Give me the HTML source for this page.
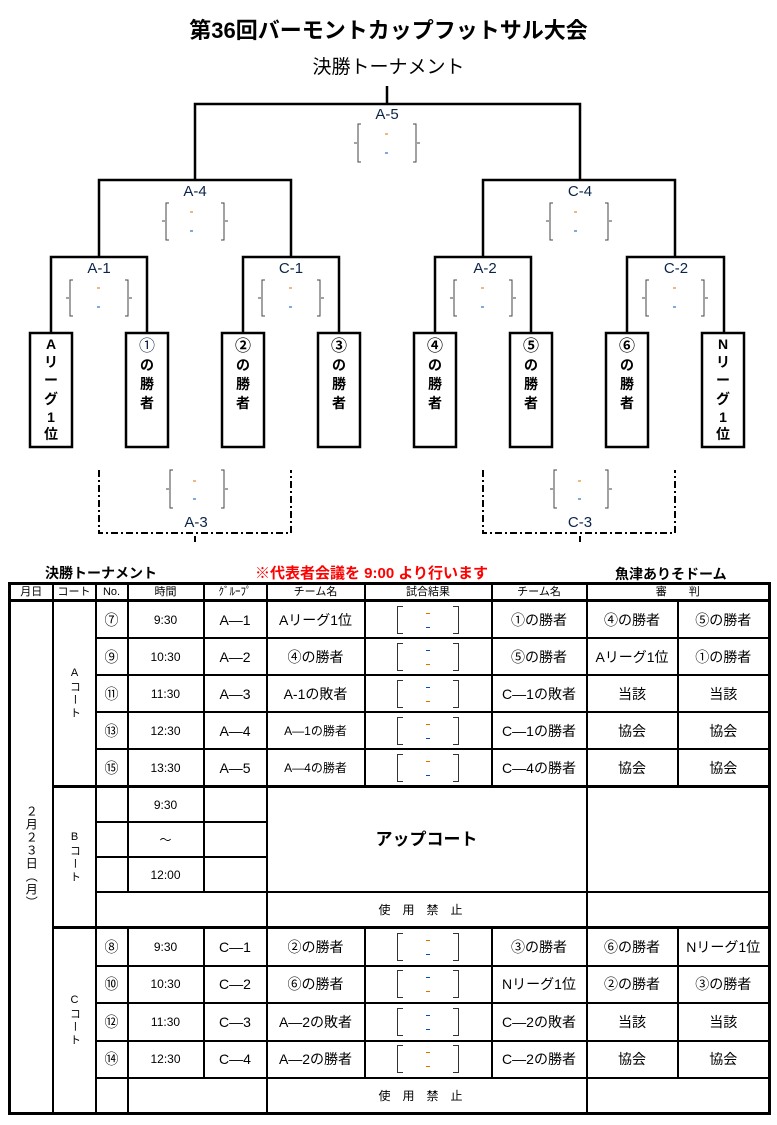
<!DOCTYPE html>
<html><head><meta charset="utf-8">
<style>
html,body{margin:0;padding:0;background:#fff;}
body{width:777px;height:1125px;position:relative;overflow:hidden;font-family:"Liberation Sans","Noto Sans CJK JP",sans-serif;color:#000;}
.abs{position:absolute;}
.title{left:0;width:777px;top:13px;text-align:center;font-size:22px;font-weight:bold;}
.sub{left:0;width:777px;top:52px;text-align:center;font-size:19px;}
table{position:absolute;left:8px;top:582px;border-collapse:collapse;table-layout:fixed;width:760px;border:3px solid #000;}
td{border:2px solid #000;padding:0;text-align:center;font-size:14px;line-height:1;overflow:hidden;}
tr.h td{height:14px;font-size:11px;border-bottom:3px solid #000;}
tr.a td{height:35px;}
tr.b td{height:33px;}
tr.c td{height:35.5px;}
.vt{writing-mode:vertical-rl;text-orientation:upright;font-size:11px;letter-spacing:2px;margin:auto;}
.res{width:62px;height:28px;margin:0 auto;position:relative;}
.res:before,.res:after{content:"";position:absolute;top:0;bottom:0;width:5px;border:1px solid #333;}
.res:before{left:0;border-right:none;}
.res:after{right:0;border-left:none;}
.res i{position:absolute;left:29px;width:4px;height:1px;}
.sm{font-size:12px;}
.thick td{border-top:3px solid #000;}
</style></head><body>
<div class="abs title">第36回バーモントカップフットサル大会</div>
<div class="abs sub">決勝トーナメント</div>

<svg class="abs" style="left:0;top:0" width="777" height="560" xmlns="http://www.w3.org/2000/svg">
<g stroke="#000" stroke-width="2.5" fill="none">
<path d="M387 86V104M195 180V104H580V180"/>
<path d="M99 257V180H291V257M483 257V180H675V257"/>
<path d="M51 333V257H147V333M243 333V257H339V333M435 333V257H531V333M627 333V257H724V333"/>
<rect x="30" y="333" width="42" height="114"/>
<rect x="126" y="333" width="42" height="114"/>
<rect x="222" y="333" width="42" height="114"/>
<rect x="318" y="333" width="42" height="114"/>
<rect x="414" y="333" width="42" height="114"/>
<rect x="510" y="333" width="42" height="114"/>
<rect x="606" y="333" width="42" height="114"/>
<rect x="702" y="333" width="42" height="114"/>
</g>
<g stroke="#000" stroke-width="2" fill="none" stroke-dasharray="7,3,2,3">
<path d="M99 470V533H291V470"/>
<path d="M483 470V533H675V470"/>
<path d="M195 536V542M580 536V542" stroke-dasharray="none"/>
</g>
<g stroke="#444" stroke-width="1" fill="none">
<path d="M361 124h-3v38h3M357 143h-3M413 124h3v38h-3M417 143h3"/>
<path d="M169 203h-3v37h3M165 221h-3M221 203h3v37h-3M225 221h3"/>
<path d="M553 203h-3v37h3M549 221h-3M605 203h3v37h-3M609 221h3"/>
<path d="M73 280h-3v36h3M69 298h-3M125 280h3v36h-3M129 298h3"/>
<path d="M265 280h-3v36h3M261 298h-3M317 280h3v36h-3M321 298h3"/>
<path d="M457 280h-3v36h3M453 298h-3M509 280h3v36h-3M513 298h3"/>
<path d="M649 280h-3v36h3M645 298h-3M701 280h3v36h-3M705 298h3"/>
<path d="M173 470h-3v38h3M169 489h-3M221 470h3v38h-3M225 489h3"/>
<path d="M557 470h-3v38h3M553 489h-3M605 470h3v38h-3M609 489h3"/>
</g>
<g stroke-width="1">
<path d="M385 134h3M190 212h3M574 212h3M97 288h3M289 288h3M481 288h3M673 288h3M193 481h3M578 481h3" stroke="#e07000"/>
<path d="M385 153h3M190 231h3M574 231h3M97 307h3M289 307h3M481 307h3M673 307h3M193 499h3M578 499h3" stroke="#0050b0"/>
</g>
<g font-family="Liberation Sans, sans-serif" font-size="15" fill="#0a2448" text-anchor="middle">
<text x="387" y="119">A-5</text>
<text x="195" y="196">A-4</text>
<text x="580" y="196">C-4</text>
<text x="99" y="273">A-1</text>
<text x="291" y="273">C-1</text>
<text x="485" y="273">A-2</text>
<text x="676" y="273">C-2</text>
<text x="196" y="527">A-3</text>
<text x="580" y="527">C-3</text>
</g>
<g font-family="Liberation Sans, Noto Sans CJK JP, sans-serif" font-size="14" font-weight="bold" text-anchor="middle">
<text x="51" y="349">A</text><text x="51" y="367">リ</text><text x="51" y="385">ー</text><text x="51" y="404">グ</text><text x="51" y="422">1</text><text x="51" y="439">位</text>
<text x="147" y="351" font-weight="normal" font-size="16" fill="#0a2448">①</text><text x="147" y="370">の</text><text x="147" y="389">勝</text><text x="147" y="408">者</text>
<text x="243" y="351" font-size="16">②</text><text x="243" y="370">の</text><text x="243" y="389">勝</text><text x="243" y="408">者</text>
<text x="339" y="351" font-size="16">③</text><text x="339" y="370">の</text><text x="339" y="389">勝</text><text x="339" y="408">者</text>
<text x="435" y="351" font-size="16">④</text><text x="435" y="370">の</text><text x="435" y="389">勝</text><text x="435" y="408">者</text>
<text x="531" y="351" font-size="16">⑤</text><text x="531" y="370">の</text><text x="531" y="389">勝</text><text x="531" y="408">者</text>
<text x="627" y="351" font-size="16">⑥</text><text x="627" y="370">の</text><text x="627" y="389">勝</text><text x="627" y="408">者</text>
<text x="723" y="349">N</text><text x="723" y="367">リ</text><text x="723" y="385">ー</text><text x="723" y="404">グ</text><text x="723" y="422">1</text><text x="723" y="439">位</text>
</g>
</svg>

<div class="abs" style="left:45px;top:563px;font-size:14px;font-weight:bold;">決勝トーナメント</div>
<div class="abs" style="left:255px;top:562px;font-size:15px;font-weight:bold;color:#ff0000;">※代表者会議を 9:00 より行います</div>
<div class="abs" style="left:615px;top:564px;font-size:14px;font-weight:bold;">魚津ありそドーム</div>

<table>
<colgroup><col style="width:43px"><col style="width:43px"><col style="width:32px"><col style="width:76px"><col style="width:63px"><col style="width:98px"><col style="width:127px"><col style="width:95px"><col style="width:91px"><col style="width:92px"></colgroup>
<tr class="h"><td>月日</td><td>コート</td><td>No.</td><td>時間</td><td>ｸﾞﾙｰﾌﾟ</td><td>チーム名</td><td>試合結果</td><td>チーム名</td><td colspan="2">審　　判</td></tr>
<tr class="a"><td rowspan="14"><div class="vt" style="font-size:12px;letter-spacing:1px">２月２３日（月）</div></td><td rowspan="5"><div class="vt">Aコート</div></td>
<td>⑦</td><td class="sm">9:30</td><td>A―1</td><td>Aリーグ1位</td><td><div class="res"><i style="top:7px;background:#e07000"></i><i style="top:21px;background:#0050b0"></i></div></td><td>①の勝者</td><td>④の勝者</td><td>⑤の勝者</td></tr>
<tr class="a"><td>⑨</td><td class="sm">10:30</td><td>A―2</td><td>④の勝者</td><td><div class="res"><i style="top:7px;background:#0050b0"></i><i style="top:21px;background:#e07000"></i></div></td><td>⑤の勝者</td><td>Aリーグ1位</td><td>①の勝者</td></tr>
<tr class="a"><td>⑪</td><td class="sm">11:30</td><td>A―3</td><td>A-1の敗者</td><td><div class="res"><i style="top:7px;background:#0050b0"></i><i style="top:21px;background:#e07000"></i></div></td><td>C―1の敗者</td><td>当該</td><td>当該</td></tr>
<tr class="a"><td>⑬</td><td class="sm">12:30</td><td>A―4</td><td class="sm">A―1の勝者</td><td><div class="res"><i style="top:7px;background:#e07000"></i><i style="top:21px;background:#0050b0"></i></div></td><td>C―1の勝者</td><td>協会</td><td>協会</td></tr>
<tr class="a"><td>⑮</td><td class="sm">13:30</td><td>A―5</td><td class="sm">A―4の勝者</td><td><div class="res"><i style="top:7px;background:#e07000"></i><i style="top:21px;background:#0050b0"></i></div></td><td>C―4の勝者</td><td>協会</td><td>協会</td></tr>
<tr class="b thick"><td rowspan="4"><div class="vt">Bコート</div></td><td></td><td class="sm">9:30</td><td></td><td colspan="3" rowspan="3" style="font-size:17px;font-weight:bold">アップコート</td><td colspan="2" rowspan="3"></td></tr>
<tr class="b"><td></td><td class="sm">～</td><td></td></tr>
<tr class="b"><td></td><td class="sm">12:00</td><td></td></tr>
<tr class="b"><td colspan="3"></td><td colspan="3" class="sm" style="letter-spacing:12px">使用禁止</td><td colspan="2"></td></tr>
<tr class="c thick"><td rowspan="5"><div class="vt">Cコート</div></td><td>⑧</td><td class="sm">9:30</td><td>C―1</td><td>②の勝者</td><td><div class="res"><i style="top:7px;background:#e07000"></i><i style="top:21px;background:#0050b0"></i></div></td><td>③の勝者</td><td>⑥の勝者</td><td>Nリーグ1位</td></tr>
<tr class="c"><td>⑩</td><td class="sm">10:30</td><td>C―2</td><td>⑥の勝者</td><td><div class="res"><i style="top:7px;background:#0050b0"></i><i style="top:21px;background:#e07000"></i></div></td><td>Nリーグ1位</td><td>②の勝者</td><td>③の勝者</td></tr>
<tr class="c"><td>⑫</td><td class="sm">11:30</td><td>C―3</td><td>A―2の敗者</td><td><div class="res"><i style="top:7px;background:#0050b0"></i><i style="top:21px;background:#0050b0"></i></div></td><td>C―2の敗者</td><td>当該</td><td>当該</td></tr>
<tr class="c"><td>⑭</td><td class="sm">12:30</td><td>C―4</td><td>A―2の勝者</td><td><div class="res"><i style="top:7px;background:#e07000"></i><i style="top:21px;background:#e07000"></i></div></td><td>C―2の勝者</td><td>協会</td><td>協会</td></tr>
<tr class="b"><td></td><td colspan="2"></td><td colspan="3" class="sm" style="letter-spacing:12px">使用禁止</td><td colspan="2"></td></tr>
</table>
</body></html>
